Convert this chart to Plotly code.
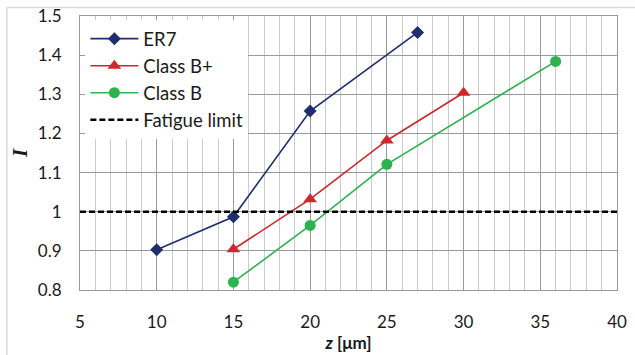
import plotly.graph_objects as go

# Data
er7_z = [10, 15, 20, 27]
er7_i = [0.903, 0.987, 1.257, 1.458]
bplus_z = [15, 20, 25, 30]
bplus_i = [0.904, 1.032, 1.182, 1.304]
b_z = [15, 20, 25, 36]
b_i = [0.820, 0.965, 1.121, 1.384]
fatigue_z = [5, 40]
fatigue_i = [1.0, 1.0]

FONT = "Lato"

fig = go.Figure()
fig.add_trace(go.Scatter(x=er7_z, y=er7_i, name="ER7", mode="lines+markers",
                         line=dict(color="#1F2F6E", width=1.6),
                         marker=dict(symbol="diamond", size=10, color="#1F2F6E")))
fig.add_trace(go.Scatter(x=bplus_z, y=bplus_i, name="Class B+", mode="lines+markers",
                         line=dict(color="#D1262D", width=1.6),
                         marker=dict(symbol="triangle-up", size=12, color="#D1262D")))
fig.add_trace(go.Scatter(x=b_z, y=b_i, name="Class B", mode="lines+markers",
                         line=dict(color="#2BB34E", width=1.6),
                         marker=dict(symbol="circle", size=11, color="#2BB34E")))
fig.add_trace(go.Scatter(x=fatigue_z, y=fatigue_i, name="Fatigue limit", mode="lines",
                         line=dict(color="black", width=2.6, dash="6px,3px")))

fig.update_layout(
    width=635, height=355,
    margin=dict(l=80, r=18, t=15.5, b=65, autoexpand=False),
    paper_bgcolor="white", plot_bgcolor="white",
    font=dict(family=FONT, size=17, color="#1a1a1a"),
    showlegend=True,
    legend=dict(x=0.01, y=0.985, xanchor="left", yanchor="top",
                bgcolor="white", borderwidth=0, itemwidth=48,
                font=dict(family=FONT, size=18.5, color="#1a1a1a"),
                tracegroupgap=0),
    xaxis=dict(range=[5, 40], dtick=5, tick0=5, automargin=False,
               showgrid=True, gridcolor="#9a9a9a", gridwidth=1.2,
               minor=dict(dtick=1, showgrid=True, gridcolor="#cccccc", gridwidth=1.2),
               showline=True, linecolor="#9a9a9a", linewidth=1.2, mirror=True,
               zeroline=False, ticks="", ticklabelstandoff=16,
               title=dict(text="<b><i>z</i> [μm]</b>", font=dict(family=FONT, size=17),
                          standoff=6)),
    yaxis=dict(range=[0.8, 1.5], dtick=0.1, tick0=0.8, automargin=False,
               showgrid=True, gridcolor="#9a9a9a", gridwidth=1.2,
               showline=True, linecolor="#9a9a9a", linewidth=1.2, mirror=True,
               zeroline=False, ticks="", ticklabelstandoff=14,
               title=dict(text="<b><i>I</i></b>", font=dict(family="Liberation Serif", size=21),
                          standoff=4)),
)

# Chart-area border (light grey, left and top visible)
fig.add_shape(type="line", xref="paper", yref="paper", x0=-0.136, x1=-0.136, y0=1.031, y1=-0.3,
              line=dict(color="#d9d9d9", width=1.5), layer="below")
fig.add_shape(type="line", xref="paper", yref="paper", x0=-0.136, x1=1.1, y0=1.031, y1=1.031,
              line=dict(color="#d9d9d9", width=1.5), layer="below")

fig.write_html("out.html")
